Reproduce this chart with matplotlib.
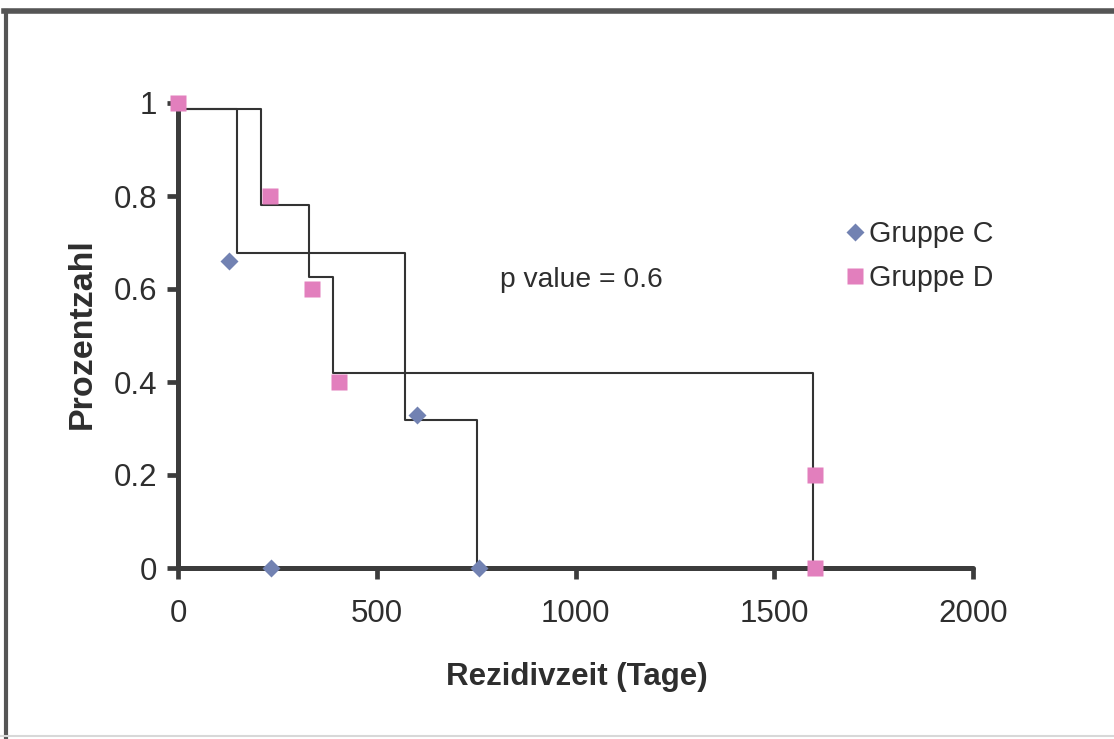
import matplotlib
matplotlib.use("Agg")
import matplotlib.pyplot as plt
from matplotlib.lines import Line2D
from matplotlib.ticker import FuncFormatter

# Rezidivzeit-Punkte (Tage) und Anteile
gruppe_c_tage = [129, 234, 600, 757]
gruppe_c_anteil = [0.66, 0.0, 0.33, 0.0]
gruppe_d_tage = [0, 231, 337, 405, 1602, 1602]
gruppe_d_anteil = [1.0, 0.8, 0.6, 0.4, 0.2, 0.0]

# Treppenkurven (Kaplan-Meier)
km_c_tage = [0, 148, 571, 752]
km_c_anteil = [0.988, 0.677, 0.318, 0.0]
km_d_tage = [0, 209, 330, 390, 1598]
km_d_anteil = [0.988, 0.78, 0.625, 0.42, 0.0]

x_ticks = [0, 500, 1000, 1500, 2000]
y_ticks = [0, 0.2, 0.4, 0.6, 0.8, 1.0]

plt.rcParams['font.family'] = ['Liberation Sans', 'DejaVu Sans']
text_col = '#2e2e2e'
axis_col = '#3c3c3c'

fig = plt.figure(figsize=(11.14, 7.39), dpi=100)
ax = fig.add_axes([178 / 1114, 171 / 739, 795 / 1114, 465 / 739])

# Treppen
ax.step(km_c_tage, km_c_anteil, where='post', color='#333333', lw=1.5, clip_on=False, zorder=3)
ax.step(km_d_tage, km_d_anteil, where='post', color='#333333', lw=1.5, clip_on=False, zorder=3)

# Punkte
ax.plot(gruppe_c_tage, gruppe_c_anteil, 'D', color='#7282b2', ms=9, mec='none',
        clip_on=False, zorder=5, label='Gruppe C')
ax.plot(gruppe_d_tage, gruppe_d_anteil, 's', color='#e27fbd', ms=11.5, mec='none',
        clip_on=False, zorder=6, label='Gruppe D')

ax.set_xlim(0, 2000)
ax.set_ylim(0, 1)
ax.set_xticks(x_ticks)
ax.set_yticks(y_ticks)
ax.yaxis.set_major_formatter(FuncFormatter(lambda v, p: f"{v:g}"))

for s in ['top', 'right']:
    ax.spines[s].set_visible(False)
for s in ['left', 'bottom']:
    ax.spines[s].set_linewidth(3.6)
    ax.spines[s].set_color(axis_col)
    ax.spines[s].set_capstyle('round')
ax.tick_params(axis='both', direction='out', length=8, width=3.4, color=axis_col,
               labelsize=22.5, labelcolor=text_col)
ax.tick_params(axis='x', pad=14)
ax.tick_params(axis='y', pad=7)

ax.set_xlabel('Rezidivzeit (Tage)', fontsize=22.5, fontweight='bold', color=text_col)
ax.set_ylabel('Prozentzahl', fontsize=24.5, fontweight='bold', color=text_col)
ax.xaxis.set_label_coords(0.502, -0.203)
ax.yaxis.set_label_coords(-0.101, 0.503)

ax.text(0.405, 0.62, 'p value = 0.6', transform=ax.transAxes, fontsize=20.3,
        color=text_col, va='center', ha='left')

ax.legend(loc='upper left', bbox_to_anchor=(834 / 1114, 1 - 206 / 739),
          bbox_transform=fig.transFigure, frameon=False, fontsize=20.6,
          handlelength=0.5, handletextpad=0.22, labelspacing=0.55, borderpad=0,
          labelcolor=text_col)

# Rahmen des Scans
fig.add_artist(Line2D([0.004, 1.0], [1 - 11 / 739, 1 - 11 / 739], color='#555555', lw=4,
                      transform=fig.transFigure))
fig.add_artist(Line2D([6 / 1114, 6 / 1114], [0.0, 1 - 11 / 739], color='#555555', lw=3,
                      transform=fig.transFigure))
fig.add_artist(Line2D([0.0, 1.0], [3 / 739, 3 / 739], color='#d8d8d8', lw=1.5,
                      transform=fig.transFigure))

fig.savefig('out.png', dpi=100)
